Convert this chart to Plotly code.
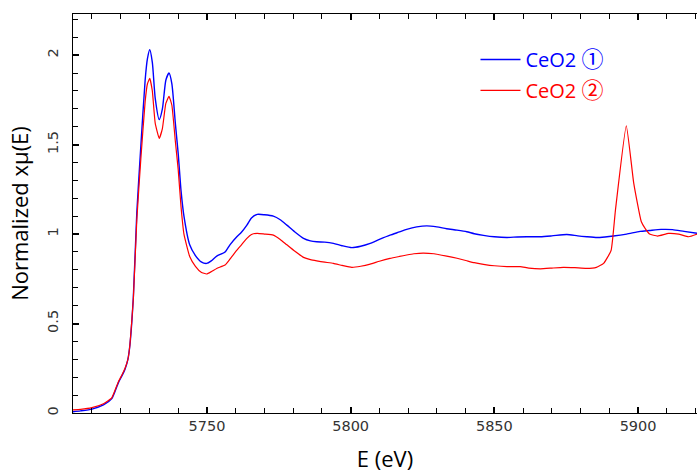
import plotly.graph_objects as go

# CeO2 (1) — blue
e_blue = [5703.4, 5706, 5710, 5714, 5716.9, 5719.2, 5720.5, 5721.5, 5722.5, 5723.2, 5724.4, 5725.6,
          5727, 5728.5, 5729.3, 5730.1, 5731, 5732, 5733.4, 5734.5, 5735.7, 5736.8, 5737.8, 5739,
          5740, 5741, 5742, 5744, 5746, 5748, 5749.9, 5751.5, 5753.4, 5756.3, 5758, 5760.4, 5762,
          5763.9, 5765.5, 5767.5, 5770, 5773.1, 5775.5, 5777.8, 5780.5, 5783.6, 5786, 5788.2, 5791,
          5794, 5797, 5800.4, 5803.5, 5806.8, 5810, 5813.7, 5817, 5819.5, 5823, 5826.5, 5830,
          5833.4, 5837, 5840.4, 5843, 5846.2, 5850, 5854.4, 5858, 5861.3, 5866, 5870, 5875.2, 5879,
          5882.2, 5885.7, 5888.5, 5891.4, 5896, 5900.7, 5904, 5908, 5912, 5916, 5920.6]
mu_blue = [0.007, 0.012, 0.022, 0.045, 0.08, 0.17, 0.21, 0.245, 0.30, 0.38, 0.65, 1.12,
           1.49, 1.86, 1.98, 2.03, 1.96, 1.76, 1.64, 1.70, 1.86, 1.90, 1.84, 1.62,
           1.45, 1.24, 1.10, 0.94, 0.88, 0.845, 0.836, 0.85, 0.877, 0.90, 0.94, 0.985, 1.01,
           1.05, 1.09, 1.11, 1.108, 1.10, 1.08, 1.05, 1.013, 0.976, 0.962, 0.957, 0.955,
           0.948, 0.935, 0.924, 0.932, 0.948, 0.97, 0.994, 1.012, 1.026, 1.04, 1.046, 1.04,
           1.03, 1.022, 1.013, 1.002, 0.993, 0.985, 0.981, 0.984, 0.985, 0.985, 0.99, 0.998, 0.99,
           0.985, 0.981, 0.984, 0.989, 1.0, 1.015, 1.02, 1.026, 1.025, 1.015, 1.004]

# CeO2 (2) — red
e_red = [5703.4, 5706, 5710, 5714, 5716.9, 5719.2, 5720.5, 5721.5, 5722.5, 5723.2, 5724.4, 5725.6,
         5727, 5728.5, 5729.3, 5730.1, 5731, 5732, 5733.4, 5734.5, 5735.7, 5736.8, 5737.8, 5739,
         5740, 5741, 5742, 5744, 5746, 5748, 5749.9, 5751.5, 5753.4, 5756.3, 5758, 5760.4, 5762,
         5763.9, 5765.5, 5767.5, 5770, 5773.1, 5775.5, 5777.8, 5780.5, 5783.6, 5786, 5788.2, 5791,
         5794, 5797, 5800.4, 5803.5, 5806.8, 5810, 5813.7, 5817, 5819.5, 5822, 5825.2, 5829,
         5833.4, 5837, 5840.4, 5843, 5846.2, 5850, 5854.4, 5859, 5862, 5866, 5870, 5874, 5878,
         5882, 5885.5, 5888, 5890.6, 5892.1, 5895.9, 5898.5, 5901.1, 5902.5, 5904, 5906.8,
         5910.6, 5914.1, 5917.6, 5920.6]
mu_red = [0.017, 0.02, 0.03, 0.052, 0.085, 0.175, 0.215, 0.25, 0.30, 0.38, 0.64, 1.08,
          1.42, 1.74, 1.84, 1.87, 1.80, 1.62, 1.535, 1.59, 1.73, 1.77, 1.72, 1.52,
          1.36, 1.15, 1.0, 0.875, 0.82, 0.787, 0.777, 0.79, 0.808, 0.827, 0.86, 0.91, 0.94,
          0.976, 0.998, 1.004, 1.0, 0.994, 0.97, 0.94, 0.905, 0.87, 0.857, 0.85, 0.843,
          0.836, 0.825, 0.814, 0.82, 0.832, 0.848, 0.864, 0.875, 0.883, 0.89, 0.894, 0.89,
          0.877, 0.865, 0.851, 0.84, 0.831, 0.823, 0.818, 0.818, 0.81, 0.806, 0.81, 0.814, 0.812,
          0.808, 0.814, 0.836, 0.908, 1.13, 1.605, 1.283, 1.07, 1.03, 1.0, 0.989,
          1.004, 1.0, 0.985, 1.0]

x_ticks = [5750, 5800, 5850, 5900]
y_ticks = [0, 0.5, 1, 1.5, 2]

circ = "font-family:'Noto Sans CJK JP';font-size:22px"
fig = go.Figure()
fig.add_trace(go.Scatter(x=e_blue, y=mu_blue, mode="lines", legendgroup="a",
                         name=f'<span style="color:#0000ff">CeO2 <span style="{circ}">①</span></span>',
                         line=dict(color="#0000ff", width=1.4, shape="spline", smoothing=0.6)))
fig.add_trace(go.Scatter(x=e_red, y=mu_red, mode="lines", legendgroup="b",
                         name=f'<span style="color:#ff0000">CeO2 <span style="{circ}">②</span></span>',
                         line=dict(color="#ff0000", width=1.2, shape="spline", smoothing=0.4)))

tick_font = dict(family="DejaVu Sans", size=14.5, color="#333333")
fig.update_layout(
    width=697, height=473,
    margin=dict(l=73, r=0, t=14, b=60),
    paper_bgcolor="white", plot_bgcolor="white",
    showlegend=True,
    legend=dict(x=0.645, y=0.935, xanchor="left", yanchor="top",
                font=dict(family="Open Sans, Noto Sans CJK JP", size=20),
                bgcolor="rgba(0,0,0,0)", itemwidth=40, tracegroupgap=2,
                traceorder="grouped"),
    xaxis=dict(range=[5703.4, 5920.5], tickvals=x_ticks, ticks="inside", ticklen=6, tickwidth=1.5,
               tickcolor="black", showline=True, linecolor="black", linewidth=1, mirror="allticks",
               showgrid=False, zeroline=False, tickfont=tick_font,
               minor=dict(dtick=10, ticks="inside", ticklen=5, tickwidth=1, tickcolor="black"),
               title=dict(text="E (eV)", font=dict(family="Open Sans", size=22, color="black"),
                          standoff=18)),
    yaxis=dict(range=[0, 2.23], tickvals=y_ticks, ticks="inside", ticklen=6, tickwidth=1.5,
               tickcolor="black", showline=True, linecolor="black", linewidth=1,
               showgrid=False, zeroline=False, tickfont=tick_font, tickangle=-90,
               ticklabelstandoff=8,
               minor=dict(dtick=0.1, ticks="inside", ticklen=5, tickwidth=1, tickcolor="black"),
               title=dict(text="Normalized xμ(E)", font=dict(family="Open Sans", size=22, color="black"),
                          standoff=10)),
)

fig.write_html("out.html")
